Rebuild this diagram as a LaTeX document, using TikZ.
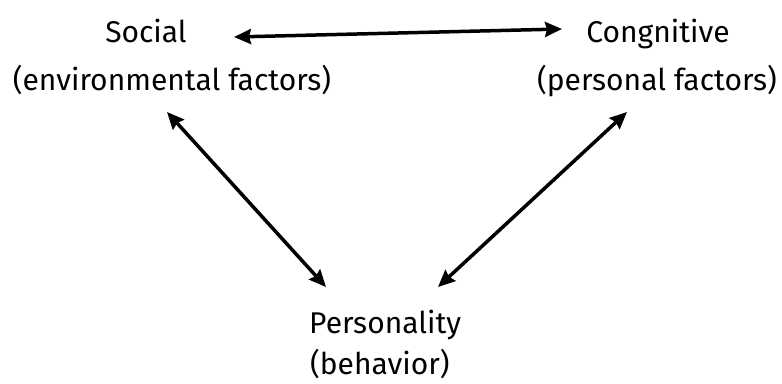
\documentclass[tikz,border=0pt]{standalone}
\usepackage{fontspec}
\setmainfont{Fira Sans}
\usetikzlibrary{arrows.meta}
\begin{document}
\begin{tikzpicture}[x=1pt,y=-1pt,
  lbl/.style={font=\fontsize{30}{36}\selectfont, inner sep=0pt, anchor=base},
  link/.style={line width=3.5pt, {Stealth[length=17pt,width=15pt,inset=2pt]}-{Stealth[length=17pt,width=15pt,inset=2pt]}}]
\useasboundingbox (0,0) rectangle (782,383);
\node[lbl] (soc1) at (146,42) {Social};
\node[lbl] (soc2) at (172,90) {(environmental factors)};
\node[lbl] (cog1) at (658,42) {Congnitive};
\node[lbl] (cog2) at (657,90) {(personal factors)};
\node[lbl, anchor=base west] (per1) at (309,333) {Personality};
\node[lbl, anchor=base west] (per2) at (310,374) {(behavior)};
\coordinate (tl) at (234,37);
\coordinate (tr) at (562,29);
\coordinate (dl1) at (167,112);
\coordinate (dl2) at (326,287);
\coordinate (dr1) at (627,112);
\coordinate (dr2) at (438,287);
\draw[link] (tl) -- (tr);
\draw[link] (dl1) -- (dl2);
\draw[link] (dr1) -- (dr2);
\end{tikzpicture}
\end{document}
